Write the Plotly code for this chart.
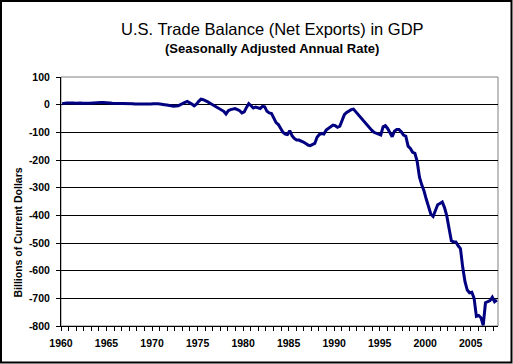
import plotly.graph_objects as go

# Quarterly net exports, billions of current dollars (SAAR), 1960Q1 - 2007Q4
years = list(range(1960, 2008))
net_exports = [
    3, 5, 6, 6,          # 1960
    7, 6, 5, 6,          # 1961
    6, 5, 6, 5,          # 1962
    5, 6, 7, 7,          # 1963
    8, 8, 8, 8,          # 1964
    6, 6, 5, 5,          # 1965
    4, 4, 3, 3,          # 1966
    4, 4, 3, 3,          # 1967
    2, 2, 1, 1,          # 1968
    1, 2, 0, 2,          # 1969
    3, 4, 3, 2,          # 1970
    2, 0, -1, -3,        # 1971
    -5, -6, -5, -4,      # 1972
    0, 3, 8, 12,         # 1973
    8, 2, -4, 2,         # 1974
    12, 20, 18, 15,      # 1975
    10, 5, 0, -4,        # 1976
    -12, -16, -20, -24,  # 1977
    -34, -22, -18, -16,  # 1978
    -14, -18, -22, -30,  # 1979
    -26, -10, 4, -4,     # 1980
    -12, -9, -11, -14,   # 1981
    -6, -8, -24, -30,    # 1982
    -32, -50, -65, -72,  # 1983
    -86, -100, -106, -108,  # 1984
    -94, -112, -122, -128,  # 1985
    -128, -131, -135, -140,  # 1986
    -146, -148, -145, -140,  # 1987
    -118, -108, -104, -106,  # 1988
    -92, -86, -82, -74,  # 1989
    -76, -82, -78, -60,  # 1990
    -36, -28, -22, -18,  # 1991
    -16, -26, -36, -44,  # 1992
    -52, -66, -76, -84,  # 1993
    -92, -100, -104, -108,  # 1994
    -110, -80, -76, -86,  # 1995
    -104, -116, -96, -90,  # 1996
    -90, -98, -110, -114,  # 1997
    -150, -158, -172, -176,  # 1998
    -206, -262, -290, -312,  # 1999
    -342, -372, -396, -404,  # 2000
    -380, -362, -357, -352,  # 2001
    -372, -402, -448, -492,  # 2002
    -496, -496, -510, -520,  # 2003
    -588, -640, -670, -680,  # 2004
    -678, -700, -765, -762,  # 2005
    -770, -798, -716, -712,  # 2006
    -708, -696, -712, -706,  # 2007
]
quarters = [1, 2, 3, 4]
x_labels = ["1960", "1965", "1970", "1975", "1980", "1985", "1990", "1995", "2000", "2005"]
y_ticks = [100, 0, -100, -200, -300, -400, -500, -600, -700, -800]

title_text = "U.S. Trade Balance (Net Exports) in GDP"
subtitle_text = "(Seasonally Adjusted Annual Rate)"
y_title = "Billions of Current Dollars"

# quarter positions (centre of each quarter category)
xq = [y + (q - 1) / 4 + 0.125 for y in years for q in quarters]

W, H = 513, 364
L, R, T, B = 61, 498, 77, 326  # plot area in pixels


def px(xp):
    return (xp - L) / (R - L)


def py(yp):
    return (B - yp) / (B - T)


FONT = "Liberation Sans, Arial, sans-serif"

fig = go.Figure()
fig.add_trace(go.Scatter(
    x=xq, y=net_exports, mode="lines",
    line=dict(color="#000080", width=3),
    hoverinfo="skip", showlegend=False,
))

fig.update_layout(
    width=W, height=H,
    margin=dict(l=L, r=W - R, t=T, b=H - B, pad=0),
    paper_bgcolor="white", plot_bgcolor="white",
    font=dict(family=FONT, color="black"),
    showlegend=False,
    xaxis=dict(
        range=[1960, 2008], showgrid=False, zeroline=False,
        showline=True, linecolor="black", linewidth=1,
        tickmode="array", tickvals=[int(v) for v in x_labels], ticktext=x_labels,
        ticks="outside", ticklen=4, tickcolor="black", tickwidth=1,
        tickfont=dict(family=FONT, size=10.5, color="black", weight="bold"),
        ticklabelstandoff=3,
        minor=dict(ticks="outside", ticklen=4, tickcolor="black", dtick=5 / 6, tick0=1960, showgrid=False),
        fixedrange=True,
    ),
    yaxis=dict(
        range=[-800, 100], showgrid=True, gridcolor="black", gridwidth=1,
        zeroline=False, showline=True, linecolor="black", linewidth=1,
        tickmode="array", tickvals=y_ticks, ticktext=[str(v) for v in y_ticks],
        ticks="outside", ticklen=4, tickcolor="black", tickwidth=1,
        tickfont=dict(family=FONT, size=10.5, color="black", weight="bold"),
        ticklabelstandoff=4,
        fixedrange=True,
    ),
    shapes=[
        dict(type="rect", xref="paper", yref="paper", x0=0, x1=1, y0=0, y1=1,
             line=dict(color="#808080", width=1), layer="below"),
        dict(type="rect", xref="paper", yref="paper",
             x0=px(1), x1=px(511.5), y0=py(1), y1=py(362.5),
             line=dict(color="black", width=2)),
    ],
    annotations=[
        dict(text=title_text, xref="paper", yref="paper", x=px(272), y=py(29),
             xanchor="center", yanchor="middle", showarrow=False,
             font=dict(family=FONT, size=16.5, color="black")),
        dict(text=subtitle_text, xref="paper", yref="paper", x=px(272), y=py(48),
             xanchor="center", yanchor="middle", showarrow=False,
             font=dict(family=FONT, size=13, color="black", weight="bold")),
        dict(text=y_title, xref="paper", yref="paper", x=px(17.5), y=py(233),
             xanchor="center", yanchor="middle", showarrow=False, textangle=-90,
             font=dict(family=FONT, size=10.5, color="black", weight="bold")),
    ],
)

fig.write_html(
    "out.html",
    config={"displayModeBar": False, "staticPlot": True},
    post_script="document.body.style.margin='0';document.body.style.overflow='hidden';",
)
